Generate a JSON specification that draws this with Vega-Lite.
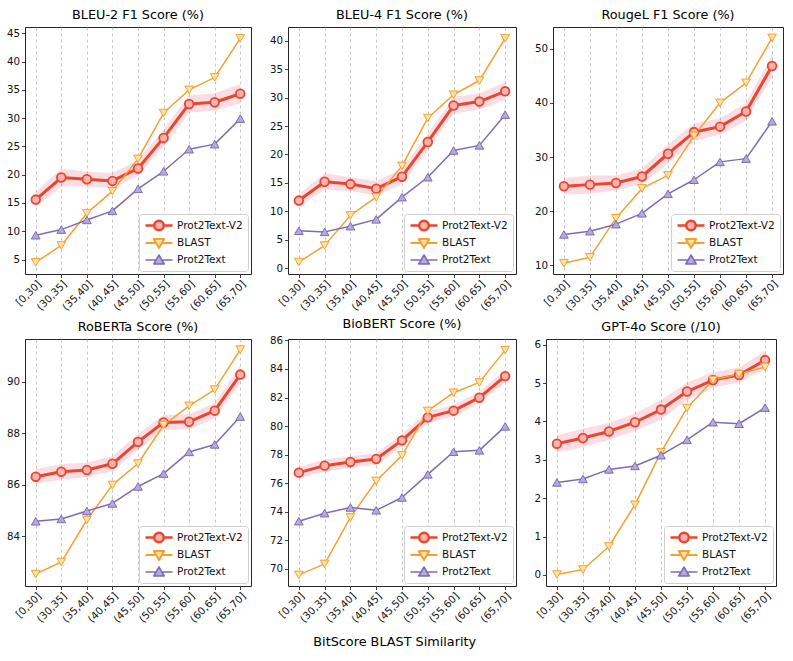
{
"$schema": "https://vega.github.io/schema/vega-lite/v6.json",
"background": "white",
"padding": {"left": 5, "top": 8, "right": 5, "bottom": 5},
"title": {"text": "BitScore BLAST Similarity", "orient": "bottom", "anchor": "middle", "fontSize": 12.8, "fontWeight": "normal", "font": "DejaVu Sans", "color": "#000", "offset": 11},
"datasets": {
"scores": [
{"m":"BLEU-2","b":"[0,30]","Prot2Text-V2":15.6,"lo":14.3,"hi":16.9,"BLAST":4.5,"Prot2Text":9.3},
{"m":"BLEU-2","b":"(30,35]","Prot2Text-V2":19.5,"lo":17.9,"hi":21.1,"BLAST":7.5,"Prot2Text":10.3},
{"m":"BLEU-2","b":"(35,40]","Prot2Text-V2":19.2,"lo":17.9,"hi":20.5,"BLAST":13.2,"Prot2Text":12.0},
{"m":"BLEU-2","b":"(40,45]","Prot2Text-V2":18.9,"lo":17.6,"hi":20.3,"BLAST":17.1,"Prot2Text":13.6},
{"m":"BLEU-2","b":"(45,50]","Prot2Text-V2":21.1,"lo":19.8,"hi":22.5,"BLAST":22.8,"Prot2Text":17.5},
{"m":"BLEU-2","b":"(50,55]","Prot2Text-V2":26.5,"lo":25.0,"hi":28.0,"BLAST":30.9,"Prot2Text":20.6},
{"m":"BLEU-2","b":"(55,60]","Prot2Text-V2":32.5,"lo":31.0,"hi":34.0,"BLAST":35.0,"Prot2Text":24.5},
{"m":"BLEU-2","b":"(60,65]","Prot2Text-V2":32.8,"lo":31.3,"hi":34.4,"BLAST":37.2,"Prot2Text":25.4},
{"m":"BLEU-2","b":"(65,70]","Prot2Text-V2":34.3,"lo":32.6,"hi":36.0,"BLAST":44.1,"Prot2Text":29.9},
{"m":"BLEU-4","b":"[0,30]","Prot2Text-V2":11.9,"lo":10.8,"hi":13.0,"BLAST":1.1,"Prot2Text":6.6},
{"m":"BLEU-4","b":"(30,35]","Prot2Text-V2":15.2,"lo":13.8,"hi":16.7,"BLAST":4.0,"Prot2Text":6.4},
{"m":"BLEU-4","b":"(35,40]","Prot2Text-V2":14.8,"lo":13.6,"hi":16.0,"BLAST":9.3,"Prot2Text":7.4},
{"m":"BLEU-4","b":"(40,45]","Prot2Text-V2":14.0,"lo":12.8,"hi":15.3,"BLAST":12.5,"Prot2Text":8.6},
{"m":"BLEU-4","b":"(45,50]","Prot2Text-V2":16.1,"lo":14.8,"hi":17.5,"BLAST":18.0,"Prot2Text":12.5},
{"m":"BLEU-4","b":"(50,55]","Prot2Text-V2":22.2,"lo":20.8,"hi":23.6,"BLAST":26.4,"Prot2Text":16.0},
{"m":"BLEU-4","b":"(55,60]","Prot2Text-V2":28.6,"lo":27.2,"hi":30.1,"BLAST":30.5,"Prot2Text":20.7},
{"m":"BLEU-4","b":"(60,65]","Prot2Text-V2":29.3,"lo":27.9,"hi":30.7,"BLAST":33.0,"Prot2Text":21.6},
{"m":"BLEU-4","b":"(65,70]","Prot2Text-V2":31.1,"lo":29.6,"hi":32.7,"BLAST":40.4,"Prot2Text":27.0},
{"m":"RougeL","b":"[0,30]","Prot2Text-V2":24.6,"lo":23.1,"hi":26.1,"BLAST":10.4,"Prot2Text":15.7},
{"m":"RougeL","b":"(30,35]","Prot2Text-V2":24.9,"lo":23.2,"hi":26.6,"BLAST":11.5,"Prot2Text":16.3},
{"m":"RougeL","b":"(35,40]","Prot2Text-V2":25.2,"lo":23.8,"hi":26.6,"BLAST":18.7,"Prot2Text":17.6},
{"m":"RougeL","b":"(40,45]","Prot2Text-V2":26.4,"lo":25.0,"hi":27.9,"BLAST":24.2,"Prot2Text":19.6},
{"m":"RougeL","b":"(45,50]","Prot2Text-V2":30.6,"lo":28.9,"hi":32.3,"BLAST":26.6,"Prot2Text":23.2},
{"m":"RougeL","b":"(50,55]","Prot2Text-V2":34.6,"lo":33.0,"hi":36.2,"BLAST":33.9,"Prot2Text":25.8},
{"m":"RougeL","b":"(55,60]","Prot2Text-V2":35.6,"lo":34.1,"hi":37.1,"BLAST":40.0,"Prot2Text":29.1},
{"m":"RougeL","b":"(60,65]","Prot2Text-V2":38.4,"lo":36.8,"hi":40.0,"BLAST":43.7,"Prot2Text":29.7},
{"m":"RougeL","b":"(65,70]","Prot2Text-V2":46.8,"lo":44.8,"hi":48.8,"BLAST":52.0,"Prot2Text":36.6},
{"m":"RoBERTa","b":"[0,30]","Prot2Text-V2":86.31,"lo":86.03,"hi":86.6,"BLAST":82.53,"Prot2Text":84.58},
{"m":"RoBERTa","b":"(30,35]","Prot2Text-V2":86.5,"lo":86.2,"hi":86.8,"BLAST":83.0,"Prot2Text":84.67},
{"m":"RoBERTa","b":"(35,40]","Prot2Text-V2":86.57,"lo":86.3,"hi":86.85,"BLAST":84.63,"Prot2Text":84.98},
{"m":"RoBERTa","b":"(40,45]","Prot2Text-V2":86.81,"lo":86.53,"hi":87.1,"BLAST":85.99,"Prot2Text":85.27},
{"m":"RoBERTa","b":"(45,50]","Prot2Text-V2":87.66,"lo":87.35,"hi":87.97,"BLAST":86.82,"Prot2Text":85.93},
{"m":"RoBERTa","b":"(50,55]","Prot2Text-V2":88.41,"lo":88.12,"hi":88.7,"BLAST":88.31,"Prot2Text":86.43},
{"m":"RoBERTa","b":"(55,60]","Prot2Text-V2":88.44,"lo":88.15,"hi":88.73,"BLAST":89.06,"Prot2Text":87.27},
{"m":"RoBERTa","b":"(60,65]","Prot2Text-V2":88.87,"lo":88.57,"hi":89.17,"BLAST":89.69,"Prot2Text":87.56},
{"m":"RoBERTa","b":"(65,70]","Prot2Text-V2":90.27,"lo":89.92,"hi":90.62,"BLAST":91.24,"Prot2Text":88.64},
{"m":"BioBERT","b":"[0,30]","Prot2Text-V2":76.74,"lo":76.34,"hi":77.14,"BLAST":69.58,"Prot2Text":73.34},
{"m":"BioBERT","b":"(30,35]","Prot2Text-V2":77.23,"lo":76.8,"hi":77.66,"BLAST":70.35,"Prot2Text":73.9},
{"m":"BioBERT","b":"(35,40]","Prot2Text-V2":77.49,"lo":77.1,"hi":77.88,"BLAST":73.6,"Prot2Text":74.3},
{"m":"BioBERT","b":"(40,45]","Prot2Text-V2":77.7,"lo":77.3,"hi":78.1,"BLAST":76.16,"Prot2Text":74.1},
{"m":"BioBERT","b":"(45,50]","Prot2Text-V2":79.0,"lo":78.55,"hi":79.45,"BLAST":77.95,"Prot2Text":75.0},
{"m":"BioBERT","b":"(50,55]","Prot2Text-V2":80.61,"lo":80.2,"hi":81.02,"BLAST":81.06,"Prot2Text":76.62},
{"m":"BioBERT","b":"(55,60]","Prot2Text-V2":81.08,"lo":80.68,"hi":81.48,"BLAST":82.34,"Prot2Text":78.2},
{"m":"BioBERT","b":"(60,65]","Prot2Text-V2":81.99,"lo":81.58,"hi":82.4,"BLAST":83.06,"Prot2Text":78.3},
{"m":"BioBERT","b":"(65,70]","Prot2Text-V2":83.5,"lo":83.05,"hi":83.95,"BLAST":85.32,"Prot2Text":79.98},
{"m":"GPT-4o","b":"[0,30]","Prot2Text-V2":3.42,"lo":3.2,"hi":3.64,"BLAST":0.01,"Prot2Text":2.41},
{"m":"GPT-4o","b":"(30,35]","Prot2Text-V2":3.57,"lo":3.33,"hi":3.81,"BLAST":0.14,"Prot2Text":2.5},
{"m":"GPT-4o","b":"(35,40]","Prot2Text-V2":3.74,"lo":3.52,"hi":3.96,"BLAST":0.74,"Prot2Text":2.75},
{"m":"GPT-4o","b":"(40,45]","Prot2Text-V2":3.98,"lo":3.75,"hi":4.21,"BLAST":1.83,"Prot2Text":2.84},
{"m":"GPT-4o","b":"(45,50]","Prot2Text-V2":4.31,"lo":4.06,"hi":4.56,"BLAST":3.2,"Prot2Text":3.12},
{"m":"GPT-4o","b":"(50,55]","Prot2Text-V2":4.78,"lo":4.55,"hi":5.01,"BLAST":4.35,"Prot2Text":3.52},
{"m":"GPT-4o","b":"(55,60]","Prot2Text-V2":5.08,"lo":4.88,"hi":5.28,"BLAST":5.08,"Prot2Text":3.98},
{"m":"GPT-4o","b":"(60,65]","Prot2Text-V2":5.21,"lo":5.02,"hi":5.4,"BLAST":5.24,"Prot2Text":3.94},
{"m":"GPT-4o","b":"(65,70]","Prot2Text-V2":5.6,"lo":5.36,"hi":5.84,"BLAST":5.42,"Prot2Text":4.36}
]
},
"vconcat": [
{"hconcat": [
{"width": 226, "height": 247, "title": {"text": "BLEU-2 F1 Score (%)", "fontWeight": "normal"}, "data": {"name": "scores"}, "transform": [{"filter": "datum.m === 'BLEU-2'"}],
 "encoding": {"x": {"field": "b", "type": "ordinal", "sort": null, "scale": {"type": "point", "padding": 0.42}, "axis": {"title": null}},
  "y": {"field": "v", "type": "quantitative", "scale": {"domain": [2.45, 46.1], "nice": false, "zero": false}, "axis": {"title": null, "labelOverlap": false, "values": [5,10,15,20,25,30,35,40,45]}}},
 "layer": [
  {"mark": {"type": "area", "fill": "#dc143c", "opacity": 0.15}, "encoding": {"y": {"field": "lo", "type": "quantitative"}, "y2": {"field": "hi"}}},
  {"transform": [{"fold": ["Prot2Text-V2","BLAST","Prot2Text"], "as": ["s","v"]}], "mark": {"type": "line"},
   "encoding": {"stroke": {"field": "s", "type": "nominal", "scale": {"domain": ["Prot2Text-V2","BLAST","Prot2Text"], "range": ["#e8472e","#f5a033","#7d6bb8"]}, "legend": {"title": null, "orient": "bottom-right", "offset": 3, "symbolSize": 100, "labelOffset": 20, "rowPadding": 5, "padding": 5, "strokeColor": "#d0d0d0", "fillColor": "white", "cornerRadius": 3, "labelFontSize": 10.5, "symbolOpacity": 1}},
    "strokeWidth": {"condition": {"test": "datum.s === 'Prot2Text-V2'", "value": 3}, "value": 1.5}}},
  {"transform": [{"fold": ["Prot2Text-V2","BLAST","Prot2Text"], "as": ["s","v"]}], "mark": {"type": "point", "size": 75, "opacity": 1, "fillOpacity": 1},
   "encoding": {
    "stroke": {"condition": [{"test": "datum.s === 'BLAST'", "value": "#f5a033"}, {"test": "datum.s === 'Prot2Text'", "value": "#7d6bb8"}], "value": "#e8472e"},
    "fill": {"condition": [{"test": "datum.s === 'BLAST'", "value": "#fde2a3"}, {"test": "datum.s === 'Prot2Text'", "value": "#b6a9dc"}], "value": "#f7b3b0"},
    "shape": {"condition": [{"test": "datum.s === 'BLAST'", "value": "triangle-down"}, {"test": "datum.s === 'Prot2Text'", "value": "triangle-up"}], "value": "circle"},
    "strokeWidth": {"condition": {"test": "datum.s === 'Prot2Text-V2'", "value": 1.8}, "value": 1}}},
  {"transform": [{"fold": ["Prot2Text-V2","BLAST","Prot2Text"], "as": ["s","v"]}, {"filter": "false"}], "mark": {"type": "point", "size": 100, "opacity": 1, "fillOpacity": 1},
   "encoding": {
    "stroke": {"field": "s", "type": "nominal"},
    "fill": {"field": "s", "type": "nominal", "scale": {"domain": ["Prot2Text-V2","BLAST","Prot2Text"], "range": ["#f7b3b0","#fde2a3","#b6a9dc"]}},
    "shape": {"field": "s", "type": "nominal", "scale": {"domain": ["Prot2Text-V2","BLAST","Prot2Text"], "range": ["M-1,0H0.75M2.65,0H4.4M2.65,0A0.95,0.95,0,1,1,0.75,0A0.95,0.95,0,1,1,2.65,0Z", "M-1,0H1.12M2.28,0H4.4M0.65,-0.8L2.75,-0.8L1.7,1Z", "M-1,0H1.12M2.28,0H4.4M1.7,-1L2.75,0.8L0.65,0.8Z"]}},
    "strokeWidth": {"field": "s", "type": "nominal", "scale": {"domain": ["Prot2Text-V2","BLAST","Prot2Text"], "range": [2.5, 1.5, 1.5]}}}}
 ]},
{"width": 228, "height": 247, "title": {"text": "BLEU-4 F1 Score (%)", "fontWeight": "normal"}, "data": {"name": "scores"}, "transform": [{"filter": "datum.m === 'BLEU-4'"}],
 "encoding": {"x": {"field": "b", "type": "ordinal", "sort": null, "scale": {"type": "point", "padding": 0.42}, "axis": {"title": null}},
  "y": {"field": "v", "type": "quantitative", "scale": {"domain": [-1, 42.4], "nice": false, "zero": false}, "axis": {"title": null, "labelOverlap": false, "values": [0,5,10,15,20,25,30,35,40]}}},
 "layer": [
  {"mark": {"type": "area", "fill": "#dc143c", "opacity": 0.15}, "encoding": {"y": {"field": "lo", "type": "quantitative"}, "y2": {"field": "hi"}}},
  {"transform": [{"fold": ["Prot2Text-V2","BLAST","Prot2Text"], "as": ["s","v"]}], "mark": {"type": "line"},
   "encoding": {"stroke": {"field": "s", "type": "nominal", "scale": {"domain": ["Prot2Text-V2","BLAST","Prot2Text"], "range": ["#e8472e","#f5a033","#7d6bb8"]}, "legend": {"title": null, "orient": "bottom-right", "offset": 3, "symbolSize": 100, "labelOffset": 20, "rowPadding": 5, "padding": 5, "strokeColor": "#d0d0d0", "fillColor": "white", "cornerRadius": 3, "labelFontSize": 10.5, "symbolOpacity": 1}},
    "strokeWidth": {"condition": {"test": "datum.s === 'Prot2Text-V2'", "value": 3}, "value": 1.5}}},
  {"transform": [{"fold": ["Prot2Text-V2","BLAST","Prot2Text"], "as": ["s","v"]}], "mark": {"type": "point", "size": 75, "opacity": 1, "fillOpacity": 1},
   "encoding": {
    "stroke": {"condition": [{"test": "datum.s === 'BLAST'", "value": "#f5a033"}, {"test": "datum.s === 'Prot2Text'", "value": "#7d6bb8"}], "value": "#e8472e"},
    "fill": {"condition": [{"test": "datum.s === 'BLAST'", "value": "#fde2a3"}, {"test": "datum.s === 'Prot2Text'", "value": "#b6a9dc"}], "value": "#f7b3b0"},
    "shape": {"condition": [{"test": "datum.s === 'BLAST'", "value": "triangle-down"}, {"test": "datum.s === 'Prot2Text'", "value": "triangle-up"}], "value": "circle"},
    "strokeWidth": {"condition": {"test": "datum.s === 'Prot2Text-V2'", "value": 1.8}, "value": 1}}},
  {"transform": [{"fold": ["Prot2Text-V2","BLAST","Prot2Text"], "as": ["s","v"]}, {"filter": "false"}], "mark": {"type": "point", "size": 100, "opacity": 1, "fillOpacity": 1},
   "encoding": {
    "stroke": {"field": "s", "type": "nominal"},
    "fill": {"field": "s", "type": "nominal", "scale": {"domain": ["Prot2Text-V2","BLAST","Prot2Text"], "range": ["#f7b3b0","#fde2a3","#b6a9dc"]}},
    "shape": {"field": "s", "type": "nominal", "scale": {"domain": ["Prot2Text-V2","BLAST","Prot2Text"], "range": ["M-1,0H0.75M2.65,0H4.4M2.65,0A0.95,0.95,0,1,1,0.75,0A0.95,0.95,0,1,1,2.65,0Z", "M-1,0H1.12M2.28,0H4.4M0.65,-0.8L2.75,-0.8L1.7,1Z", "M-1,0H1.12M2.28,0H4.4M1.7,-1L2.75,0.8L0.65,0.8Z"]}},
    "strokeWidth": {"field": "s", "type": "nominal", "scale": {"domain": ["Prot2Text-V2","BLAST","Prot2Text"], "range": [2.5, 1.5, 1.5]}}}}
 ]},
{"width": 230, "height": 247, "title": {"text": "RougeL F1 Score (%)", "fontWeight": "normal"}, "data": {"name": "scores"}, "transform": [{"filter": "datum.m === 'RougeL'"}],
 "encoding": {"x": {"field": "b", "type": "ordinal", "sort": null, "scale": {"type": "point", "padding": 0.42}, "axis": {"title": null}},
  "y": {"field": "v", "type": "quantitative", "scale": {"domain": [8.4, 54.0], "nice": false, "zero": false}, "axis": {"title": null, "labelOverlap": false, "values": [10,20,30,40,50]}}},
 "layer": [
  {"mark": {"type": "area", "fill": "#dc143c", "opacity": 0.15}, "encoding": {"y": {"field": "lo", "type": "quantitative"}, "y2": {"field": "hi"}}},
  {"transform": [{"fold": ["Prot2Text-V2","BLAST","Prot2Text"], "as": ["s","v"]}], "mark": {"type": "line"},
   "encoding": {"stroke": {"field": "s", "type": "nominal", "scale": {"domain": ["Prot2Text-V2","BLAST","Prot2Text"], "range": ["#e8472e","#f5a033","#7d6bb8"]}, "legend": {"title": null, "orient": "bottom-right", "offset": 3, "symbolSize": 100, "labelOffset": 20, "rowPadding": 5, "padding": 5, "strokeColor": "#d0d0d0", "fillColor": "white", "cornerRadius": 3, "labelFontSize": 10.5, "symbolOpacity": 1}},
    "strokeWidth": {"condition": {"test": "datum.s === 'Prot2Text-V2'", "value": 3}, "value": 1.5}}},
  {"transform": [{"fold": ["Prot2Text-V2","BLAST","Prot2Text"], "as": ["s","v"]}], "mark": {"type": "point", "size": 75, "opacity": 1, "fillOpacity": 1},
   "encoding": {
    "stroke": {"condition": [{"test": "datum.s === 'BLAST'", "value": "#f5a033"}, {"test": "datum.s === 'Prot2Text'", "value": "#7d6bb8"}], "value": "#e8472e"},
    "fill": {"condition": [{"test": "datum.s === 'BLAST'", "value": "#fde2a3"}, {"test": "datum.s === 'Prot2Text'", "value": "#b6a9dc"}], "value": "#f7b3b0"},
    "shape": {"condition": [{"test": "datum.s === 'BLAST'", "value": "triangle-down"}, {"test": "datum.s === 'Prot2Text'", "value": "triangle-up"}], "value": "circle"},
    "strokeWidth": {"condition": {"test": "datum.s === 'Prot2Text-V2'", "value": 1.8}, "value": 1}}},
  {"transform": [{"fold": ["Prot2Text-V2","BLAST","Prot2Text"], "as": ["s","v"]}, {"filter": "false"}], "mark": {"type": "point", "size": 100, "opacity": 1, "fillOpacity": 1},
   "encoding": {
    "stroke": {"field": "s", "type": "nominal"},
    "fill": {"field": "s", "type": "nominal", "scale": {"domain": ["Prot2Text-V2","BLAST","Prot2Text"], "range": ["#f7b3b0","#fde2a3","#b6a9dc"]}},
    "shape": {"field": "s", "type": "nominal", "scale": {"domain": ["Prot2Text-V2","BLAST","Prot2Text"], "range": ["M-1,0H0.75M2.65,0H4.4M2.65,0A0.95,0.95,0,1,1,0.75,0A0.95,0.95,0,1,1,2.65,0Z", "M-1,0H1.12M2.28,0H4.4M0.65,-0.8L2.75,-0.8L1.7,1Z", "M-1,0H1.12M2.28,0H4.4M1.7,-1L2.75,0.8L0.65,0.8Z"]}},
    "strokeWidth": {"field": "s", "type": "nominal", "scale": {"domain": ["Prot2Text-V2","BLAST","Prot2Text"], "range": [2.5, 1.5, 1.5]}}}}
 ]}
], "spacing": 16, "resolve": {"scale": {"y": "independent", "stroke": "independent", "fill": "independent", "shape": "independent", "strokeWidth": "independent"}, "legend": {"stroke": "independent", "fill": "independent", "shape": "independent", "strokeWidth": "independent"}}},
{"hconcat": [
{"width": 226, "height": 247, "title": {"text": "RoBERTa Score (%)", "fontWeight": "normal"}, "data": {"name": "scores"}, "transform": [{"filter": "datum.m === 'RoBERTa'"}],
 "encoding": {"x": {"field": "b", "type": "ordinal", "sort": null, "scale": {"type": "point", "padding": 0.42}, "axis": {"title": null}},
  "y": {"field": "v", "type": "quantitative", "scale": {"domain": [82.07, 91.65], "nice": false, "zero": false}, "axis": {"title": null, "labelOverlap": false, "values": [84,86,88,90]}}},
 "layer": [
  {"mark": {"type": "area", "fill": "#dc143c", "opacity": 0.15}, "encoding": {"y": {"field": "lo", "type": "quantitative"}, "y2": {"field": "hi"}}},
  {"transform": [{"fold": ["Prot2Text-V2","BLAST","Prot2Text"], "as": ["s","v"]}], "mark": {"type": "line"},
   "encoding": {"stroke": {"field": "s", "type": "nominal", "scale": {"domain": ["Prot2Text-V2","BLAST","Prot2Text"], "range": ["#e8472e","#f5a033","#7d6bb8"]}, "legend": {"title": null, "orient": "bottom-right", "offset": 3, "symbolSize": 100, "labelOffset": 20, "rowPadding": 5, "padding": 5, "strokeColor": "#d0d0d0", "fillColor": "white", "cornerRadius": 3, "labelFontSize": 10.5, "symbolOpacity": 1}},
    "strokeWidth": {"condition": {"test": "datum.s === 'Prot2Text-V2'", "value": 3}, "value": 1.5}}},
  {"transform": [{"fold": ["Prot2Text-V2","BLAST","Prot2Text"], "as": ["s","v"]}], "mark": {"type": "point", "size": 75, "opacity": 1, "fillOpacity": 1},
   "encoding": {
    "stroke": {"condition": [{"test": "datum.s === 'BLAST'", "value": "#f5a033"}, {"test": "datum.s === 'Prot2Text'", "value": "#7d6bb8"}], "value": "#e8472e"},
    "fill": {"condition": [{"test": "datum.s === 'BLAST'", "value": "#fde2a3"}, {"test": "datum.s === 'Prot2Text'", "value": "#b6a9dc"}], "value": "#f7b3b0"},
    "shape": {"condition": [{"test": "datum.s === 'BLAST'", "value": "triangle-down"}, {"test": "datum.s === 'Prot2Text'", "value": "triangle-up"}], "value": "circle"},
    "strokeWidth": {"condition": {"test": "datum.s === 'Prot2Text-V2'", "value": 1.8}, "value": 1}}},
  {"transform": [{"fold": ["Prot2Text-V2","BLAST","Prot2Text"], "as": ["s","v"]}, {"filter": "false"}], "mark": {"type": "point", "size": 100, "opacity": 1, "fillOpacity": 1},
   "encoding": {
    "stroke": {"field": "s", "type": "nominal"},
    "fill": {"field": "s", "type": "nominal", "scale": {"domain": ["Prot2Text-V2","BLAST","Prot2Text"], "range": ["#f7b3b0","#fde2a3","#b6a9dc"]}},
    "shape": {"field": "s", "type": "nominal", "scale": {"domain": ["Prot2Text-V2","BLAST","Prot2Text"], "range": ["M-1,0H0.75M2.65,0H4.4M2.65,0A0.95,0.95,0,1,1,0.75,0A0.95,0.95,0,1,1,2.65,0Z", "M-1,0H1.12M2.28,0H4.4M0.65,-0.8L2.75,-0.8L1.7,1Z", "M-1,0H1.12M2.28,0H4.4M1.7,-1L2.75,0.8L0.65,0.8Z"]}},
    "strokeWidth": {"field": "s", "type": "nominal", "scale": {"domain": ["Prot2Text-V2","BLAST","Prot2Text"], "range": [2.5, 1.5, 1.5]}}}}
 ]},
{"width": 228, "height": 247, "title": {"text": "BioBERT Score (%)", "fontWeight": "normal"}, "data": {"name": "scores"}, "transform": [{"filter": "datum.m === 'BioBERT'"}],
 "encoding": {"x": {"field": "b", "type": "ordinal", "sort": null, "scale": {"type": "point", "padding": 0.42}, "axis": {"title": null}},
  "y": {"field": "v", "type": "quantitative", "scale": {"domain": [68.8, 86.1], "nice": false, "zero": false}, "axis": {"title": null, "labelOverlap": false, "values": [70,72,74,76,78,80,82,84,86]}}},
 "layer": [
  {"mark": {"type": "area", "fill": "#dc143c", "opacity": 0.15}, "encoding": {"y": {"field": "lo", "type": "quantitative"}, "y2": {"field": "hi"}}},
  {"transform": [{"fold": ["Prot2Text-V2","BLAST","Prot2Text"], "as": ["s","v"]}], "mark": {"type": "line"},
   "encoding": {"stroke": {"field": "s", "type": "nominal", "scale": {"domain": ["Prot2Text-V2","BLAST","Prot2Text"], "range": ["#e8472e","#f5a033","#7d6bb8"]}, "legend": {"title": null, "orient": "bottom-right", "offset": 3, "symbolSize": 100, "labelOffset": 20, "rowPadding": 5, "padding": 5, "strokeColor": "#d0d0d0", "fillColor": "white", "cornerRadius": 3, "labelFontSize": 10.5, "symbolOpacity": 1}},
    "strokeWidth": {"condition": {"test": "datum.s === 'Prot2Text-V2'", "value": 3}, "value": 1.5}}},
  {"transform": [{"fold": ["Prot2Text-V2","BLAST","Prot2Text"], "as": ["s","v"]}], "mark": {"type": "point", "size": 75, "opacity": 1, "fillOpacity": 1},
   "encoding": {
    "stroke": {"condition": [{"test": "datum.s === 'BLAST'", "value": "#f5a033"}, {"test": "datum.s === 'Prot2Text'", "value": "#7d6bb8"}], "value": "#e8472e"},
    "fill": {"condition": [{"test": "datum.s === 'BLAST'", "value": "#fde2a3"}, {"test": "datum.s === 'Prot2Text'", "value": "#b6a9dc"}], "value": "#f7b3b0"},
    "shape": {"condition": [{"test": "datum.s === 'BLAST'", "value": "triangle-down"}, {"test": "datum.s === 'Prot2Text'", "value": "triangle-up"}], "value": "circle"},
    "strokeWidth": {"condition": {"test": "datum.s === 'Prot2Text-V2'", "value": 1.8}, "value": 1}}},
  {"transform": [{"fold": ["Prot2Text-V2","BLAST","Prot2Text"], "as": ["s","v"]}, {"filter": "false"}], "mark": {"type": "point", "size": 100, "opacity": 1, "fillOpacity": 1},
   "encoding": {
    "stroke": {"field": "s", "type": "nominal"},
    "fill": {"field": "s", "type": "nominal", "scale": {"domain": ["Prot2Text-V2","BLAST","Prot2Text"], "range": ["#f7b3b0","#fde2a3","#b6a9dc"]}},
    "shape": {"field": "s", "type": "nominal", "scale": {"domain": ["Prot2Text-V2","BLAST","Prot2Text"], "range": ["M-1,0H0.75M2.65,0H4.4M2.65,0A0.95,0.95,0,1,1,0.75,0A0.95,0.95,0,1,1,2.65,0Z", "M-1,0H1.12M2.28,0H4.4M0.65,-0.8L2.75,-0.8L1.7,1Z", "M-1,0H1.12M2.28,0H4.4M1.7,-1L2.75,0.8L0.65,0.8Z"]}},
    "strokeWidth": {"field": "s", "type": "nominal", "scale": {"domain": ["Prot2Text-V2","BLAST","Prot2Text"], "range": [2.5, 1.5, 1.5]}}}}
 ]},
{"width": 230, "height": 247, "title": {"text": "GPT-4o Score (/10)", "fontWeight": "normal"}, "data": {"name": "scores"}, "transform": [{"filter": "datum.m === 'GPT-4o'"}],
 "encoding": {"x": {"field": "b", "type": "ordinal", "sort": null, "scale": {"type": "point", "padding": 0.42}, "axis": {"title": null}},
  "y": {"field": "v", "type": "quantitative", "scale": {"domain": [-0.29, 6.15], "nice": false, "zero": false}, "axis": {"title": null, "labelOverlap": false, "values": [0,1,2,3,4,5,6]}}},
 "layer": [
  {"mark": {"type": "area", "fill": "#dc143c", "opacity": 0.15}, "encoding": {"y": {"field": "lo", "type": "quantitative"}, "y2": {"field": "hi"}}},
  {"transform": [{"fold": ["Prot2Text-V2","BLAST","Prot2Text"], "as": ["s","v"]}], "mark": {"type": "line"},
   "encoding": {"stroke": {"field": "s", "type": "nominal", "scale": {"domain": ["Prot2Text-V2","BLAST","Prot2Text"], "range": ["#e8472e","#f5a033","#7d6bb8"]}, "legend": {"title": null, "orient": "bottom-right", "offset": 3, "symbolSize": 100, "labelOffset": 20, "rowPadding": 5, "padding": 5, "strokeColor": "#d0d0d0", "fillColor": "white", "cornerRadius": 3, "labelFontSize": 10.5, "symbolOpacity": 1}},
    "strokeWidth": {"condition": {"test": "datum.s === 'Prot2Text-V2'", "value": 3}, "value": 1.5}}},
  {"transform": [{"fold": ["Prot2Text-V2","BLAST","Prot2Text"], "as": ["s","v"]}], "mark": {"type": "point", "size": 75, "opacity": 1, "fillOpacity": 1},
   "encoding": {
    "stroke": {"condition": [{"test": "datum.s === 'BLAST'", "value": "#f5a033"}, {"test": "datum.s === 'Prot2Text'", "value": "#7d6bb8"}], "value": "#e8472e"},
    "fill": {"condition": [{"test": "datum.s === 'BLAST'", "value": "#fde2a3"}, {"test": "datum.s === 'Prot2Text'", "value": "#b6a9dc"}], "value": "#f7b3b0"},
    "shape": {"condition": [{"test": "datum.s === 'BLAST'", "value": "triangle-down"}, {"test": "datum.s === 'Prot2Text'", "value": "triangle-up"}], "value": "circle"},
    "strokeWidth": {"condition": {"test": "datum.s === 'Prot2Text-V2'", "value": 1.8}, "value": 1}}},
  {"transform": [{"fold": ["Prot2Text-V2","BLAST","Prot2Text"], "as": ["s","v"]}, {"filter": "false"}], "mark": {"type": "point", "size": 100, "opacity": 1, "fillOpacity": 1},
   "encoding": {
    "stroke": {"field": "s", "type": "nominal"},
    "fill": {"field": "s", "type": "nominal", "scale": {"domain": ["Prot2Text-V2","BLAST","Prot2Text"], "range": ["#f7b3b0","#fde2a3","#b6a9dc"]}},
    "shape": {"field": "s", "type": "nominal", "scale": {"domain": ["Prot2Text-V2","BLAST","Prot2Text"], "range": ["M-1,0H0.75M2.65,0H4.4M2.65,0A0.95,0.95,0,1,1,0.75,0A0.95,0.95,0,1,1,2.65,0Z", "M-1,0H1.12M2.28,0H4.4M0.65,-0.8L2.75,-0.8L1.7,1Z", "M-1,0H1.12M2.28,0H4.4M1.7,-1L2.75,0.8L0.65,0.8Z"]}},
    "strokeWidth": {"field": "s", "type": "nominal", "scale": {"domain": ["Prot2Text-V2","BLAST","Prot2Text"], "range": [2.5, 1.5, 1.5]}}}}
 ]}
], "spacing": 16, "resolve": {"scale": {"y": "independent", "stroke": "independent", "fill": "independent", "shape": "independent", "strokeWidth": "independent"}, "legend": {"stroke": "independent", "fill": "independent", "shape": "independent", "strokeWidth": "independent"}}}
],
"spacing": 4,
"resolve": {"scale": {"y": "independent", "stroke": "independent", "fill": "independent", "shape": "independent", "strokeWidth": "independent"}, "legend": {"stroke": "independent", "fill": "independent", "shape": "independent", "strokeWidth": "independent"}},
"config": {
 "font": "DejaVu Sans",
 "view": {"stroke": "#262626", "strokeWidth": 1},
 "title": {"fontSize": 12.8, "fontWeight": "normal", "color": "#000", "offset": 5, "font": "DejaVu Sans"},
 "axis": {"labelFont": "DejaVu Sans", "labelFontSize": 10.3, "labelColor": "#111", "tickColor": "#111", "tickSize": 3.5, "tickWidth": 0.8, "domain": false, "labelPadding": 2},
 "axisX": {"grid": true, "gridDash": [3, 3], "gridColor": "#b8b8b8", "gridWidth": 0.8, "labelAngle": -45, "labelAlign": "right", "labelBaseline": "top", "labelPadding": 1},
 "axisY": {"grid": false, "labelOverlap": false},
 "legend": {"labelFont": "DejaVu Sans", "labelColor": "#111"},
 "line": {"strokeJoin": "round"}
}
}
